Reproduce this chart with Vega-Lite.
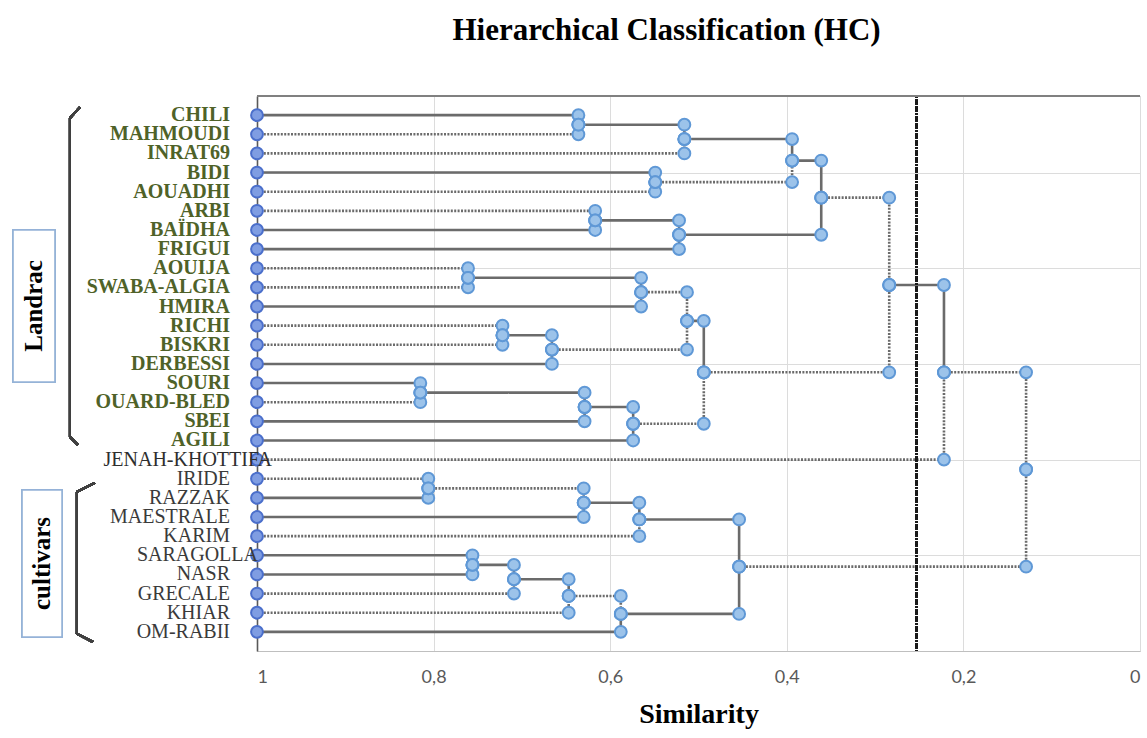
{
  "$schema": "https://vega.github.io/schema/vega-lite/v6.json",
  "width": 883,
  "height": 555,
  "autosize": "none",
  "padding": {"left": 257, "top": 96, "right": 7, "bottom": 87},
  "background": "#ffffff",
  "title": {"text": "Hierarchical   Classification   (HC)", "anchor": "middle", "dx": -32, "offset": 48, "font": "Liberation Serif", "fontSize": 31, "fontWeight": "bold", "color": "#000000"},
  "config": {
    "view": {"stroke": "#d9d9d9", "strokeWidth": 1},
    "style": {"guide-title": {"font": "Liberation Serif", "fontWeight": "bold", "fill": "#000000"}},
    "axis": {"gridColor": "#dcdcdc", "gridWidth": 1},
    "axisX": {"grid": true, "ticks": false, "domainColor": "#bfbfbf", "domainWidth": 1.2,
              "labelFont": "Lato", "labelFontSize": 18, "labelColor": "#595959", "labelPadding": 17,
              "titleFont": "Liberation Serif", "titleFontSize": 28, "titleFontWeight": "bold", "titleColor": "#000000", "titlePadding": 14},
    "axisY": {"grid": true, "labels": false, "ticks": false, "domainColor": "#595959", "domainWidth": 1.6}
  },
  "datasets": {
    "tree": [
      {"child":"CHILI","group":"landrace","from":1,"y":28,"to":0.636,"mid":27.5,"style":"solid"},
      {"child":"MAHMOUDI","group":"landrace","from":1,"y":27,"to":0.636,"mid":27.5,"style":"dotted"},
      {"child":"A","group":"node","from":0.636,"y":27.5,"to":0.516,"mid":26.75,"style":"solid"},
      {"child":"INRAT69","group":"landrace","from":1,"y":26,"to":0.516,"mid":26.75,"style":"dotted"},
      {"child":"BIDI","group":"landrace","from":1,"y":25,"to":0.549,"mid":24.5,"style":"solid"},
      {"child":"AOUADHI","group":"landrace","from":1,"y":24,"to":0.549,"mid":24.5,"style":"dotted"},
      {"child":"B","group":"node","from":0.516,"y":26.75,"to":0.394,"mid":25.625,"style":"solid"},
      {"child":"C","group":"node","from":0.549,"y":24.5,"to":0.394,"mid":25.625,"style":"dotted"},
      {"child":"ARBI","group":"landrace","from":1,"y":23,"to":0.617,"mid":22.5,"style":"dotted"},
      {"child":"BAÏDHA","group":"landrace","from":1,"y":22,"to":0.617,"mid":22.5,"style":"solid"},
      {"child":"G","group":"node","from":0.617,"y":22.5,"to":0.522,"mid":21.75,"style":"solid"},
      {"child":"FRIGUI","group":"landrace","from":1,"y":21,"to":0.522,"mid":21.75,"style":"solid"},
      {"child":"D","group":"node","from":0.394,"y":25.625,"to":0.361,"mid":23.6875,"style":"solid"},
      {"child":"F","group":"node","from":0.522,"y":21.75,"to":0.361,"mid":23.6875,"style":"solid"},
      {"child":"AOUIJA","group":"landrace","from":1,"y":20,"to":0.761,"mid":19.5,"style":"dotted"},
      {"child":"SWABA-ALGIA","group":"landrace","from":1,"y":19,"to":0.761,"mid":19.5,"style":"dotted"},
      {"child":"H","group":"node","from":0.761,"y":19.5,"to":0.565,"mid":18.75,"style":"solid"},
      {"child":"HMIRA","group":"landrace","from":1,"y":18,"to":0.565,"mid":18.75,"style":"solid"},
      {"child":"RICHI","group":"landrace","from":1,"y":17,"to":0.722,"mid":16.5,"style":"dotted"},
      {"child":"BISKRI","group":"landrace","from":1,"y":16,"to":0.722,"mid":16.5,"style":"dotted"},
      {"child":"J","group":"node","from":0.722,"y":16.5,"to":0.666,"mid":15.75,"style":"solid"},
      {"child":"DERBESSI","group":"landrace","from":1,"y":15,"to":0.666,"mid":15.75,"style":"solid"},
      {"child":"I","group":"node","from":0.565,"y":18.75,"to":0.513,"mid":17.25,"style":"dotted"},
      {"child":"K","group":"node","from":0.666,"y":15.75,"to":0.513,"mid":17.25,"style":"dotted"},
      {"child":"SOURI","group":"landrace","from":1,"y":14,"to":0.815,"mid":13.5,"style":"solid"},
      {"child":"OUARD-BLED","group":"landrace","from":1,"y":13,"to":0.815,"mid":13.5,"style":"dotted"},
      {"child":"O","group":"node","from":0.815,"y":13.5,"to":0.629,"mid":12.75,"style":"solid"},
      {"child":"SBEI","group":"landrace","from":1,"y":12,"to":0.629,"mid":12.75,"style":"solid"},
      {"child":"P","group":"node","from":0.629,"y":12.75,"to":0.574,"mid":11.875,"style":"solid"},
      {"child":"AGILI","group":"landrace","from":1,"y":11,"to":0.574,"mid":11.875,"style":"solid"},
      {"child":"L","group":"node","from":0.513,"y":17.25,"to":0.494,"mid":14.5625,"style":"solid"},
      {"child":"Q","group":"node","from":0.574,"y":11.875,"to":0.494,"mid":14.5625,"style":"dotted"},
      {"child":"E","group":"node","from":0.361,"y":23.6875,"to":0.284,"mid":19.125,"style":"dotted"},
      {"child":"M","group":"node","from":0.494,"y":14.5625,"to":0.284,"mid":19.125,"style":"dotted"},
      {"child":"R","group":"node","from":0.284,"y":19.125,"to":0.222,"mid":14.5625,"style":"solid"},
      {"child":"JENAH-KHOTTIFA","group":"other","from":1,"y":10,"to":0.222,"mid":14.5625,"style":"dotted"},
      {"child":"IRIDE","group":"cultivar","from":1,"y":9,"to":0.806,"mid":8.5,"style":"dotted"},
      {"child":"RAZZAK","group":"cultivar","from":1,"y":8,"to":0.806,"mid":8.5,"style":"solid"},
      {"child":"V","group":"node","from":0.806,"y":8.5,"to":0.63,"mid":7.75,"style":"dotted"},
      {"child":"MAESTRALE","group":"cultivar","from":1,"y":7,"to":0.63,"mid":7.75,"style":"solid"},
      {"child":"W","group":"node","from":0.63,"y":7.75,"to":0.567,"mid":6.875,"style":"solid"},
      {"child":"KARIM","group":"cultivar","from":1,"y":6,"to":0.567,"mid":6.875,"style":"dotted"},
      {"child":"SARAGOLLA","group":"cultivar","from":1,"y":5,"to":0.756,"mid":4.5,"style":"solid"},
      {"child":"NASR","group":"cultivar","from":1,"y":4,"to":0.756,"mid":4.5,"style":"solid"},
      {"child":"Z","group":"node","from":0.756,"y":4.5,"to":0.709,"mid":3.75,"style":"solid"},
      {"child":"GRECALE","group":"cultivar","from":1,"y":3,"to":0.709,"mid":3.75,"style":"dotted"},
      {"child":"AA","group":"node","from":0.709,"y":3.75,"to":0.647,"mid":2.875,"style":"solid"},
      {"child":"KHIAR","group":"cultivar","from":1,"y":2,"to":0.647,"mid":2.875,"style":"dotted"},
      {"child":"AB","group":"node","from":0.647,"y":2.875,"to":0.588,"mid":1.9375,"style":"dotted"},
      {"child":"OM-RABII","group":"cultivar","from":1,"y":1,"to":0.588,"mid":1.9375,"style":"solid"},
      {"child":"X","group":"node","from":0.567,"y":6.875,"to":0.454,"mid":4.40625,"style":"solid"},
      {"child":"Y","group":"node","from":0.588,"y":1.9375,"to":0.454,"mid":4.40625,"style":"solid"},
      {"child":"S","group":"node","from":0.222,"y":14.5625,"to":0.129,"mid":9.484,"style":"dotted"},
      {"child":"U","group":"node","from":0.454,"y":4.40625,"to":0.129,"mid":9.484,"style":"dotted"}
    ],
    "groups": [
      {"label": "Landrac"},
      {"label": "cultivars"}
    ]
  },
  "data": {"name": "tree"},
  "layer": [
    {
      "mark": {"type": "rule", "color": "#6b6b6b", "strokeWidth": 2.6},
      "encoding": {
        "x": {"field": "from", "type": "quantitative",
              "scale": {"domain": [0, 1], "reverse": true, "nice": false, "zero": false},
              "axis": {"values": [1, 0.8, 0.6, 0.4, 0.2, 0], "labelExpr": "replace(format(datum.value, '.1~f'), '.', ',')",
                       "title": "Similarity", "titleFont": "Liberation Serif", "titleFontSize": 28, "titleFontWeight": "bold",
                       "titleColor": "#000000", "titlePadding": 14}},
        "x2": {"field": "to"},
        "y": {"field": "y", "type": "quantitative",
              "scale": {"domain": [0, 29], "nice": false, "zero": false},
              "axis": {"values": [5, 10, 15, 20, 25], "title": null}},
        "strokeDash": {"field": "style", "type": "nominal",
                       "scale": {"domain": ["solid", "dotted"], "range": [[1, 0], [2, 1.4]]}, "legend": null}
      }
    },
    {
      "mark": {"type": "rule", "color": "#6b6b6b", "strokeWidth": 2.6},
      "encoding": {
        "x": {"field": "to", "type": "quantitative", "title": "Similarity"},
        "y": {"field": "y", "type": "quantitative", "title": null},
        "y2": {"field": "mid"},
        "strokeDash": {"field": "style", "type": "nominal", "legend": null}
      }
    },
    {
      "mark": {"type": "rule", "color": "#1a1a1a", "strokeWidth": 2.6, "strokeDash": [2, 1.4]},
      "encoding": {"x": {"datum": 0.253, "type": "quantitative", "title": "Similarity"}}
    },
    {
      "mark": {"type": "rule", "color": "#808080", "strokeWidth": 1.6},
      "encoding": {"y": {"datum": 29, "type": "quantitative", "title": null}}
    },
    {
      "mark": {"type": "point", "shape": "circle", "filled": true, "size": 140, "strokeWidth": 2, "opacity": 1},
      "encoding": {
        "x": {"field": "from", "type": "quantitative", "title": "Similarity"},
        "y": {"field": "y", "type": "quantitative", "title": null},
        "fill": {"condition": {"test": "datum.from == 1", "value": "#7f9de2"}, "value": "#9cc3ea"},
        "stroke": {"condition": {"test": "datum.from == 1", "value": "#4b6fcb"}, "value": "#5f98d6"}
      }
    },
    {
      "mark": {"type": "point", "shape": "circle", "filled": true, "size": 140, "strokeWidth": 2, "opacity": 1, "fill": "#9cc3ea", "stroke": "#5f98d6"},
      "encoding": {
        "x": {"field": "to", "type": "quantitative", "title": "Similarity"},
        "y": {"field": "y", "type": "quantitative", "title": null}
      }
    },
    {
      "mark": {"type": "point", "shape": "circle", "filled": true, "size": 140, "strokeWidth": 2, "opacity": 1, "fill": "#9cc3ea", "stroke": "#5f98d6"},
      "encoding": {
        "x": {"field": "to", "type": "quantitative", "title": "Similarity"},
        "y": {"field": "mid", "type": "quantitative", "title": null}
      }
    },
    {
      "transform": [{"filter": "datum.group != 'node'"}],
      "mark": {"type": "text", "align": "right", "baseline": "middle", "font": "Liberation Serif", "fontSize": 20,
               "dx": {"expr": "datum.child == 'JENAH-KHOTTIFA' ? 15 : (datum.child == 'SARAGOLLA' ? 1 : -27)"},
               "fontWeight": {"expr": "datum.group == 'landrace' ? 'bold' : 'normal'"}},
      "encoding": {
        "x": {"field": "from", "type": "quantitative", "title": "Similarity"},
        "y": {"field": "y", "type": "quantitative", "title": null},
        "text": {"field": "child"},
        "color": {"field": "group", "type": "nominal",
                  "scale": {"domain": ["landrace", "cultivar", "other"], "range": ["#4f6228", "#3a3a3a", "#2e2e2e"]}, "legend": null}
      }
    },
    {
      "mark": {"type": "rect", "fill": "#ffffff", "stroke": "#95b3d7", "strokeWidth": 1.6},
      "encoding": {
        "x": {"datum": 1.2763, "type": "quantitative", "title": "Similarity"},
        "x2": {"datum": 1.2288},
        "y": {"datum": 22.0, "type": "quantitative", "title": null},
        "y2": {"datum": 14.05}
      }
    },
    {
      "mark": {"type": "rect", "fill": "#ffffff", "stroke": "#95b3d7", "strokeWidth": 1.6},
      "encoding": {
        "x": {"datum": 1.2661, "type": "quantitative", "title": "Similarity"},
        "x2": {"datum": 1.2208},
        "y": {"datum": 8.41, "type": "quantitative", "title": null},
        "y2": {"datum": 0.73}
      }
    },
    {
      "data": {"name": "groups"},
      "transform": [{"filter": "datum.label == 'Landrac'"}],
      "mark": {"type": "text", "angle": 270, "align": "center", "baseline": "middle", "font": "Liberation Serif", "fontSize": 25, "fontWeight": "bold", "color": "#000000"},
      "encoding": {
        "x": {"datum": 1.2525, "type": "quantitative", "title": "Similarity"},
        "y": {"datum": 18.03, "type": "quantitative", "title": null},
        "text": {"field": "label"}
      }
    },
    {
      "data": {"name": "groups"},
      "transform": [{"filter": "datum.label == 'cultivars'"}],
      "mark": {"type": "text", "angle": 270, "align": "center", "baseline": "middle", "font": "Liberation Serif", "fontSize": 25, "fontWeight": "bold", "color": "#000000"},
      "encoding": {
        "x": {"datum": 1.2435, "type": "quantitative", "title": "Similarity"},
        "y": {"datum": 4.57, "type": "quantitative", "title": null},
        "text": {"field": "label"}
      }
    },
    {
      "mark": {"type": "rule", "color": "#404040", "strokeWidth": 2},
      "encoding": {"x": {"datum": 1.2118, "type": "quantitative", "title": "Similarity"}, "y": {"datum": 27.85, "type": "quantitative", "title": null}, "y2": {"datum": 11.18}}
    },
    {
      "mark": {"type": "rule", "color": "#404040", "strokeWidth": 2},
      "encoding": {"x": {"datum": 1.2118, "type": "quantitative", "title": "Similarity"}, "x2": {"datum": 1.2005}, "y": {"datum": 27.85, "type": "quantitative", "title": null}, "y2": {"datum": 28.42}}
    },
    {
      "mark": {"type": "rule", "color": "#404040", "strokeWidth": 2},
      "encoding": {"x": {"datum": 1.2118, "type": "quantitative", "title": "Similarity"}, "x2": {"datum": 1.2027}, "y": {"datum": 11.18, "type": "quantitative", "title": null}, "y2": {"datum": 10.76}}
    },
    {
      "mark": {"type": "rule", "color": "#404040", "strokeWidth": 2},
      "encoding": {"x": {"datum": 1.2039, "type": "quantitative", "title": "Similarity"}, "y": {"datum": 8.31, "type": "quantitative", "title": null}, "y2": {"datum": 0.89}}
    },
    {
      "mark": {"type": "rule", "color": "#404040", "strokeWidth": 2},
      "encoding": {"x": {"datum": 1.2039, "type": "quantitative", "title": "Similarity"}, "x2": {"datum": 1.1835}, "y": {"datum": 8.31, "type": "quantitative", "title": null}, "y2": {"datum": 8.78}}
    },
    {
      "mark": {"type": "rule", "color": "#404040", "strokeWidth": 2},
      "encoding": {"x": {"datum": 1.2039, "type": "quantitative", "title": "Similarity"}, "x2": {"datum": 1.1857}, "y": {"datum": 0.89, "type": "quantitative", "title": null}, "y2": {"datum": 0.47}}
    }
  ]
}
